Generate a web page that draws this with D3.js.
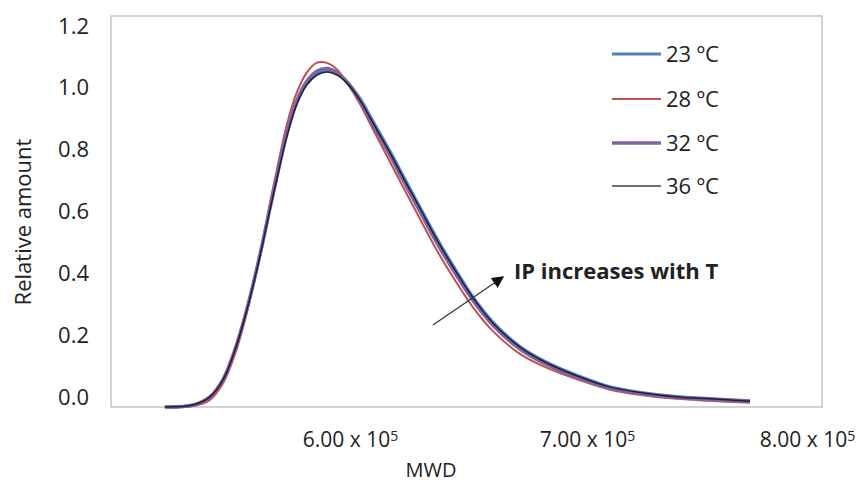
<!DOCTYPE html>
<html>
<head>
<meta charset="utf-8">
<script src="https://cdn.jsdelivr.net/npm/d3@7"></script>
<style>
  body { margin: 0; background: #fff; }
  text { font-family: "Open Sans", sans-serif; fill: #222; }
</style>
</head>
<body>
<div id="chart"></div>
<script>
// MWD in units of 1e5
const mwd = [5.219, 5.338, 5.409, 5.464, 5.515, 5.557, 5.591, 5.629, 5.662, 5.692, 5.734, 5.776,
  5.819, 5.861, 5.903, 5.945, 5.987, 6.042, 6.097, 6.169, 6.224, 6.295, 6.367, 6.451, 6.519,
  6.603, 6.717, 6.831, 6.970, 7.105, 7.255, 7.409, 7.559, 7.741]

const t23 = [0, 0.006, 0.031, 0.083, 0.175, 0.277, 0.374, 0.494, 0.606, 0.705, 0.836, 0.934,
  0.994, 1.024, 1.033, 1.024, 0.999, 0.947, 0.877, 0.785, 0.710, 0.614, 0.517, 0.415, 0.338,
  0.261, 0.186, 0.137, 0.094, 0.062, 0.044, 0.032, 0.026, 0.019]
const t28 = [0, 0.003, 0.022, 0.072, 0.162, 0.268, 0.375, 0.498, 0.625, 0.730, 0.868, 0.966,
  1.028, 1.057, 1.056, 1.036, 0.995, 0.930, 0.852, 0.752, 0.675, 0.578, 0.480, 0.380, 0.306,
  0.233, 0.163, 0.120, 0.082, 0.053, 0.036, 0.025, 0.019, 0.013]
const t32 = [0, 0.006, 0.031, 0.084, 0.177, 0.279, 0.376, 0.497, 0.611, 0.710, 0.842, 0.941,
  1.001, 1.031, 1.039, 1.027, 0.998, 0.940, 0.866, 0.772, 0.696, 0.600, 0.503, 0.402, 0.327,
  0.251, 0.178, 0.130, 0.088, 0.058, 0.040, 0.029, 0.023, 0.017]
const t36 = [0, 0.006, 0.031, 0.083, 0.175, 0.276, 0.372, 0.492, 0.604, 0.702, 0.832, 0.930,
  0.990, 1.019, 1.028, 1.019, 0.994, 0.942, 0.872, 0.780, 0.705, 0.610, 0.513, 0.411, 0.335,
  0.258, 0.184, 0.135, 0.092, 0.061, 0.043, 0.031, 0.025, 0.018]

const seriesNames = ['23 ºC', '28 ºC', '32 ºC', '36 ºC']
const yTicks = [0, 0.2, 0.4, 0.6, 0.8, 1.0, 1.2]
const xTicks = [6, 7, 8]

const width = 860, height = 484
const plot = { left: 111, top: 16, right: 822, bottom: 407 }

const series = [
  { name: seriesNames[0], values: t23, color: '#4f81bd', w: 3 },
  { name: seriesNames[1], values: t28, color: '#c0504d', w: 2 },
  { name: seriesNames[2], values: t32, color: '#8064a2', w: 3.5 },
  { name: seriesNames[3], values: t36, color: '#1f1f3a', w: 1.5 }
]

const svg = d3.select('#chart').append('svg')
  .attr('width', width)
  .attr('height', height)

// x labels in the source are hand placed, so the spacing is not even
const x = d3.scaleLinear().domain([6, 7, 8]).range([350, 587, 807])
const y = d3.scaleLinear().domain([0, 1.2]).range([plot.bottom, plot.top])
// tick labels sit a bit inside the plot box in the source
const yLab = d3.scaleLinear().domain([0, 1.2]).range([397, 26])

svg.append('rect')
  .attr('x', plot.left).attr('y', plot.top)
  .attr('width', plot.right - plot.left).attr('height', plot.bottom - plot.top)
  .attr('fill', 'none').attr('stroke', '#c4c4c4').attr('stroke-width', 1.5)

const line = d3.line()
  .x((d, i) => x(mwd[i]))
  .y(d => y(d))
  .curve(d3.curveCatmullRom.alpha(0.5))

series.forEach(s => {
  svg.append('path')
    .attr('d', line(s.values))
    .attr('fill', 'none')
    .attr('stroke', s.color)
    .attr('stroke-width', s.w)
    .attr('stroke-linejoin', 'round')
})

// y axis
const yAxis = svg.append('g')
  .attr('transform', `translate(${plot.left},0)`)
  .call(d3.axisLeft(yLab).tickValues(yTicks).tickSize(0).tickPadding(22).tickFormat(d3.format('.1f')))
yAxis.select('.domain').remove()
yAxis.selectAll('text').style('font-size', '22px').style('font-family', '"Open Sans", sans-serif').attr('fill', '#222')

// x axis
const xAxis = svg.append('g')
  .attr('transform', `translate(0,${plot.bottom})`)
  .call(d3.axisBottom(x).tickValues(xTicks).tickSize(0).tickPadding(25).tickFormat(''))
xAxis.select('.domain').remove()
xAxis.selectAll('text')
  .style('font-size', '21px').style('font-family', '"Open Sans", sans-serif').attr('fill', '#222')
  .each(function (d) {
    const t = d3.select(this)
    t.append('tspan').text(d3.format('.2f')(d) + ' x 10')
    t.append('tspan').text('5').attr('dy', '-0.45em').style('font-size', '14px')
  })

svg.append('text')
  .attr('transform', `translate(31,222) rotate(-90)`)
  .attr('text-anchor', 'middle')
  .style('font-size', '22px')
  .text('Relative amount')

svg.append('text')
  .attr('x', 431).attr('y', 477)
  .attr('text-anchor', 'middle')
  .style('font-size', '20px')
  .text('MWD')

// legend
const legend = svg.append('g')
series.forEach((s, i) => {
  const ly = [54, 99, 143, 186][i]
  legend.append('line')
    .attr('x1', 612).attr('x2', 661).attr('y1', ly).attr('y2', ly)
    .attr('stroke', i === 3 ? '#404040' : s.color)
    .attr('stroke-width', s.w)
  legend.append('text')
    .attr('x', 666).attr('y', ly).attr('dy', '0.35em')
    .style('font-size', '22px')
    .text(s.name)
})

// annotation arrow
const arrow = { from: [6.350, 0.252], to: [6.646, 0.399], label: [6.692, 0.392] }
svg.append('defs').append('marker')
  .attr('id', 'head').attr('viewBox', '0 0 10 10')
  .attr('refX', 9).attr('refY', 5)
  .attr('markerWidth', 12).attr('markerHeight', 12).attr('markerUnits', 'userSpaceOnUse')
  .attr('orient', 'auto')
  .append('path').attr('d', 'M0,0L10,5L0,10Z').attr('fill', '#111')

svg.append('line')
  .attr('x1', x(arrow.from[0])).attr('y1', y(arrow.from[1]))
  .attr('x2', x(arrow.to[0])).attr('y2', y(arrow.to[1]))
  .attr('stroke', '#333').attr('stroke-width', 1.2)
  .attr('marker-end', 'url(#head)')

svg.append('text')
  .attr('x', x(arrow.label[0])).attr('y', y(arrow.label[1]))
  .style('font-size', '22px').style('font-weight', 'bold')
  .attr('fill', '#111')
  .text('IP increases with T')
</script>
</body>
</html>
